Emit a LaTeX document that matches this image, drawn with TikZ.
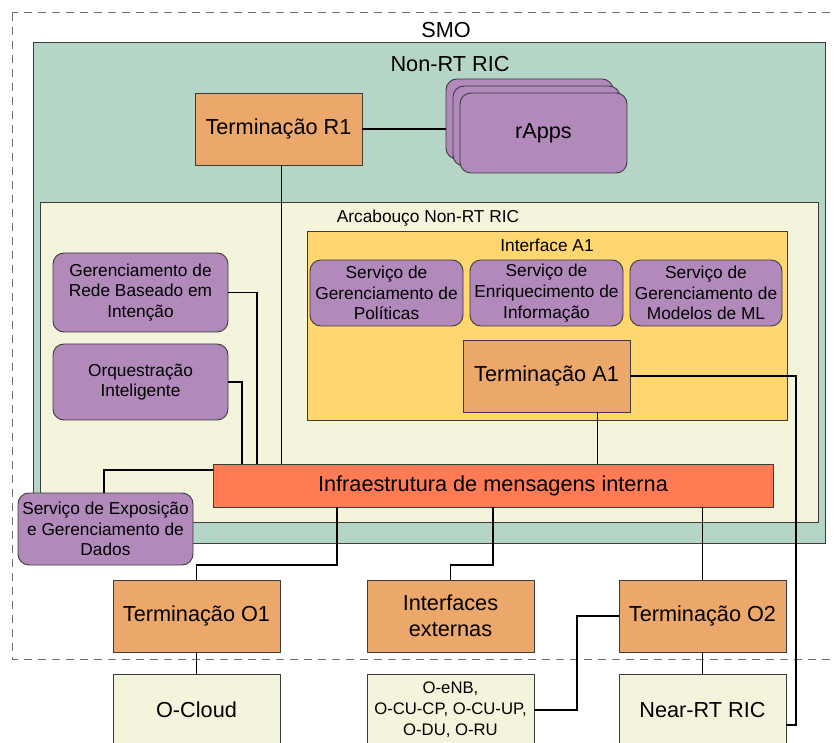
\documentclass[tikz,border=0pt]{standalone}
\usepackage{fontspec}
\setmainfont{Liberation Sans}
\usetikzlibrary{calc}

\definecolor{ricgreen}{HTML}{B5D6C6}
\definecolor{framecream}{HTML}{F4F4DC}
\definecolor{a1yellow}{HTML}{FFD66F}
\definecolor{termorange}{HTML}{EBA86A}
\definecolor{apppurple}{HTML}{B18ABB}
\definecolor{infracoral}{HTML}{FF7B53}
\definecolor{edgegray}{HTML}{3C3C3C}
\definecolor{dashgray}{HTML}{707070}

\tikzset{
  every node/.style={inner sep=0pt, outer sep=0pt},
  bigtext/.style={font=\fontsize{21.7}{25.5}\selectfont},
  smalltext/.style={font=\fontsize{17.3}{20.6}\selectfont},
  container/.style={draw=edgegray, line width=0.9pt, anchor=north west},
  termbox/.style={draw=edgegray, fill=termorange, line width=0.9pt, align=center, bigtext, anchor=north west},
  appbox/.style={draw=edgegray, fill=apppurple, line width=0.9pt, rounded corners=11pt, align=center, smalltext, anchor=north west},
  nodebox/.style={draw=edgegray, fill=framecream, line width=0.9pt, align=center, bigtext, anchor=north west},
  wire/.style={line width=1.2pt, black},
}

\begin{document}
\begin{tikzpicture}[x=1pt, y=-1pt]
  \useasboundingbox (0,0) rectangle (836,743);
  \clip (0,0) rectangle (836,743);
  \fill[white] (0,0) rectangle (836,743);

  % SMO domain (open to the right)
  \draw[dashgray, line width=1pt, dash pattern=on 8pt off 6pt] (12,13) rectangle (860,659);
  \node[bigtext, anchor=base] (smolbl) at (446,38) {SMO};

  % Non-RT RIC
  \node[container, fill=ricgreen, minimum width=792, minimum height=501] (nonrt) at (33,42) {};
  \node[bigtext, anchor=base] (nonrtlbl) at (450,72) {Non-RT RIC};

  % Non-RT RIC framework
  \node[container, fill=framecream, minimum width=778, minimum height=320] (frame) at (40,202) {};
  \node[smalltext, anchor=base] (framelbl) at (428,222.5) {Arcabouço Non-RT RIC};

  % A1 interface group
  \node[container, fill=a1yellow, minimum width=480, minimum height=189] (a1grp) at (307,231) {};
  \node[smalltext, anchor=base] (a1lbl) at (547,252) {Interface A1};

  % R1 termination and stacked rApps
  \node[termbox, minimum width=167, minimum height=72] (r1) at (195,93) {Terminação R1};
  \node[appbox, minimum width=167, minimum height=80] (rappsback) at (446,79) {};
  \node[appbox, minimum width=167, minimum height=80] (rappsmid) at (453,86) {};
  \node[appbox, minimum width=167, minimum height=80, bigtext] (rapps) at (460,93) {rApps};

  % A1 services
  \node[appbox, minimum width=153, minimum height=66] (pol) at (310,260)
    {Serviço de\\Gerenciamento de\\Políticas};
  \node[appbox, minimum width=153, minimum height=66] (enr) at (470,260)
    {Serviço de\\Enriquecimento de\\Informação};
  \node[appbox, minimum width=152, minimum height=66] (mlm) at (630,260)
    {Serviço de\\Gerenciamento de\\Modelos de ML};
  \node[termbox, minimum width=167, minimum height=72] (a1) at (463,340) {Terminação A1};

  % Framework functions
  \node[appbox, minimum width=175, minimum height=79] (ibn) at (53,253)
    {Gerenciamento de\\Rede Baseado em\\Intenção};
  \node[appbox, minimum width=175, minimum height=76] (orq) at (53,344)
    {Orquestração\\Inteligente};

  % Internal messaging bus
  \node[draw=edgegray, fill=infracoral, line width=0.9pt, bigtext, anchor=north west,
        minimum width=560, minimum height=43] (infra) at (213,464)
    {Infraestrutura de mensagens interna};

  % Data exposure service
  \node[appbox, minimum width=175, minimum height=72] (expo) at (18,493)
    {Serviço de Exposição\\e Gerenciamento de\\Dados};

  % SMO terminations
  \node[termbox, minimum width=167, minimum height=72] (o1) at (113,580) {Terminação O1};
  \node[termbox, minimum width=167, minimum height=72] (extif) at (367,580) {Interfaces\\externas};
  \node[termbox, minimum width=167, minimum height=72] (o2) at (619,580) {Terminação O2};

  % Managed elements
  \node[nodebox, minimum width=167, minimum height=72] (cloud) at (113,674) {O-Cloud};
  \node[nodebox, minimum width=167, minimum height=72, font=\fontsize{16.7}{21}\selectfont] (ran) at (367,674)
    {O-eNB,\\O-CU-CP, O-CU-UP,\\O-DU, O-RU};
  \node[nodebox, minimum width=167, minimum height=72] (near) at (619,674) {Near-RT RIC};

  % Connectors
  \coordinate (jo1) at (337,565);
  \coordinate (jext) at (493,565);
  \coordinate (ja1) at (796,376);
  \coordinate (jran) at (577,616);

  \draw[wire] (r1.east) -- (r1.east -| rappsback.west);
  \draw[wire] ([xshift=3pt]r1.south) -- ([xshift=3pt]r1.south |- infra.north);
  \draw[wire] ([xshift=51pt]a1.south) -- ([xshift=51pt]a1.south |- infra.north);
  \draw[wire] (ibn.east) -| ($(infra.north west)+(44,0)$);
  \draw[wire] (orq.east) -| ($(infra.north west)+(29,0)$);
  \draw[wire] ($(infra.north west)+(0,6)$) -| ([xshift=-1.5pt]expo.north);
  \draw[wire] (infra.south -| jo1) -- (jo1) -| (o1.north);
  \draw[wire] (infra.south -| jext) -- (jext) -| (extif.north);
  \draw[wire] (infra.south -| o2.north) -- (o2.north);
  \draw[wire] (o1.south) -- (cloud.north);
  \draw[wire] (o2.south) -- (near.north);
  \draw[wire] (o2.west) -- (jran) |- (ran.east);
  \draw[wire] (a1.east) -- (ja1) |- ([yshift=-15pt]near.east);
\end{tikzpicture}
\end{document}
